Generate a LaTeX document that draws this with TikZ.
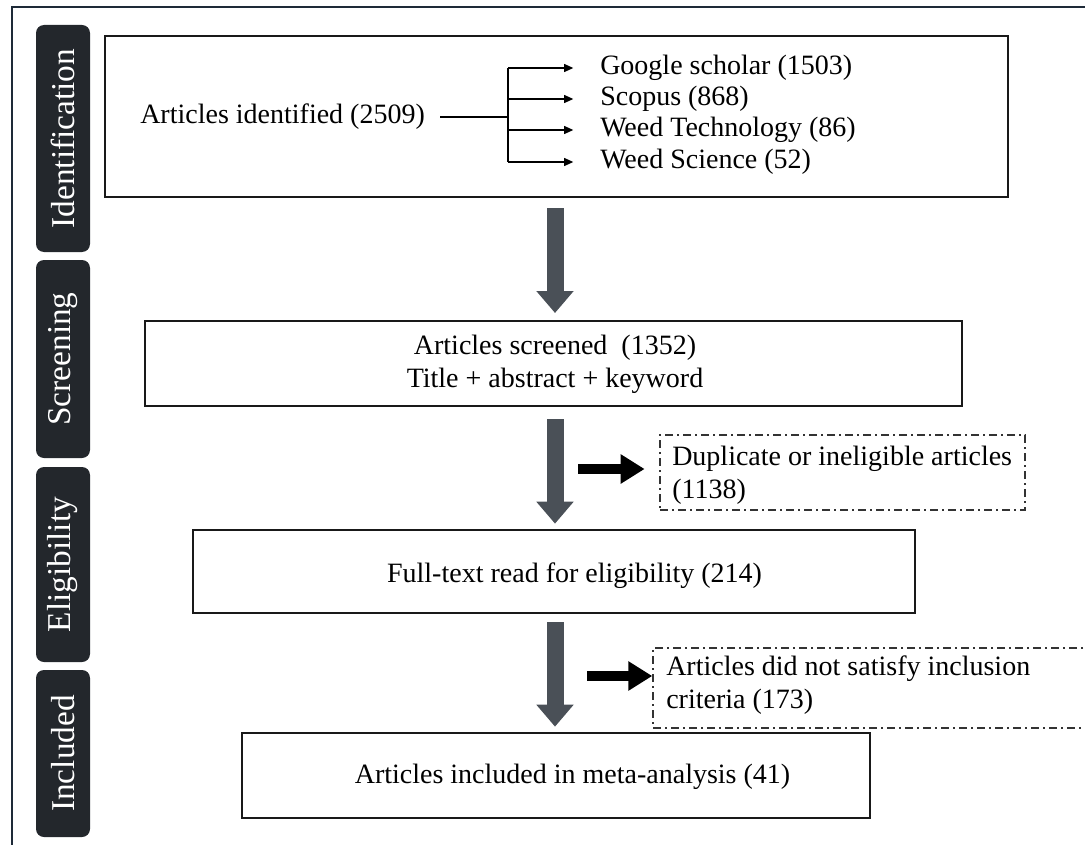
\documentclass[tikz,border=0pt]{standalone}
\usepackage{fontspec}
\setmainfont{Liberation Serif}
\usetikzlibrary{arrows.meta,calc}
\definecolor{framec}{HTML}{1E2A38}
\definecolor{tabc}{HTML}{23272C}
\definecolor{bigarr}{HTML}{4A5057}
\definecolor{dashc}{HTML}{333333}
\tikzset{
  box/.style={draw=black!90, line width=2pt, fill=white, inner sep=0pt},
  dbox/.style={draw=dashc, line width=1.1pt, dash pattern=on 6pt off 3pt on 1.5pt off 3pt, inner sep=0pt},
  txt/.style={inner sep=0pt, font=\fontsize{21}{25}\selectfont},
  tab/.style={fill=tabc, rounded corners=6pt, rotate=90, text=white, inner sep=0pt,
              minimum height=40.5pt, font=\fontsize{25}{30}\selectfont},
  bigarrow/.style={draw=bigarr, line width=12.75pt, -{Triangle[length=16.5pt,width=27pt]}},
  blkarrow/.style={draw=black, line width=8pt, -{Triangle[length=18pt,width=21pt]}},
  thinarrow/.style={draw=black, line width=1.1pt, -{Triangle[length=7pt,width=6pt]}},
}
\begin{document}
\begin{tikzpicture}[x=0.75pt,y=-0.75pt]
\useasboundingbox (0,0) rectangle (1085,845);
\clip (0,0) rectangle (1085,845);
% frame
\draw[framec, line width=1.5pt] (12,850) -- (12,7) -- (1090,7);
% side tabs
\node[tab, minimum width=227*0.75pt] (tabI) at (63,138.5) {Identification};
\node[tab, minimum width=198*0.75pt] (tabS) at (63,359) {Screening};
\node[tab, minimum width=195*0.75pt] (tabE) at (63,564.5) {Eligibility};
\node[tab, minimum width=167*0.75pt] (tabN) at (63,753.5) {Included};
% main boxes
\node[box, minimum width=903*0.75pt, minimum height=161*0.75pt] (b1) at (556.5,116.5) {};
\node[box, minimum width=817*0.75pt, minimum height=85*0.75pt] (b2) at (553.5,363.5) {};
\node[box, minimum width=722*0.75pt, minimum height=83*0.75pt] (b3) at (554,571.5) {};
\node[box, minimum width=628*0.75pt, minimum height=85*0.75pt] (b4) at (556,775.5) {};
% dashed boxes
\node[dbox, minimum width=365*0.75pt, minimum height=75*0.75pt] (d1) at (842.5,472.5) {};
\node[dbox, minimum width=460*0.75pt, minimum height=80*0.75pt] (d2) at (883,688) {};
% texts
\node[txt, anchor=west] (src) at (140,117) {Articles identified (2509)};
\node[txt, anchor=west] (t1) at (600,68) {Google scholar (1503)};
\node[txt, anchor=west] (t2) at (600,99) {Scopus (868)};
\node[txt, anchor=west] (t3) at (600,130) {Weed Technology (86)};
\node[txt, anchor=west] (t4) at (600,162) {Weed Science (52)};
\node[txt, align=center] (b2t) at (555,364) {Articles screened\ \ (1352)\\Title + abstract + keyword};
\node[txt] (b3t) at (574.5,576) {Full-text read for eligibility (214)};
\node[txt] (b4t) at (572.5,777) {Articles included in meta-analysis (41)};
\node[txt, anchor=west, align=left] (d1t) at (672,475) {Duplicate or ineligible articles\\(1138)};
\node[txt, anchor=west, align=left] (d2t) at (666,685) {Articles did not satisfy inclusion\\criteria (173)};
% branch
\coordinate (br) at (508,117);
\draw[black, line width=1.1pt, shorten <=11.25pt] (src.east) -- (br);
\draw[black, line width=1.1pt] (br |- t1) -- (br |- t4);
\foreach \t in {t1,t2,t3,t4}{
  \draw[thinarrow, shorten >=20pt] (br |- \t) -- (\t.west);
}
% big arrows
\coordinate (ax) at (555,0);
\draw[bigarrow, shorten <=7.5pt, shorten >=5pt] (b1.south -| ax) -- (b2.north -| ax);
\draw[bigarrow, shorten <=9pt, shorten >=3.75pt] (b2.south -| ax) -- (b3.north -| ax);
\draw[bigarrow, shorten <=6pt, shorten >=3.75pt] (b3.south -| ax) -- (b4.north -| ax);
% side arrows
\coordinate (s1) at (578,469);
\coordinate (s2) at (587,676);
\draw[blkarrow, shorten >=11pt] (s1) -- (s1 -| d1.west);
\draw[blkarrow] (s2) -- (s2 -| d2.west);
\end{tikzpicture}
\end{document}
